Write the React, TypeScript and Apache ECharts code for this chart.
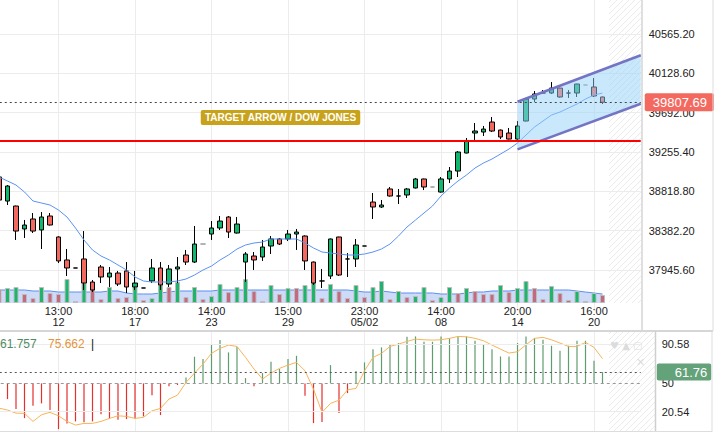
import React, { useEffect, useRef } from 'react';
import * as echarts from 'echarts';

const FONT = '"Liberation Sans", Arial, sans-serif';
const SLOT_COUNT = 76;

const opens = [38978, 38711, 38656, 38401, 38512, 38390, 38545, 38312, 38057, 37968, 38068, 37812, 37979, 37868, 37912, 37935, 37757, 37746, 37824, 37968, 37790, 37957, 38112, 38034, 38234, 38345, 38412, 38534, 38356, 38034, 38101, 38090, 38212, 38290, 38290, 38345, 38323, 38034, 37824, 37879, 38312, 38068, 38068, 38212, 38700, 38645, 38845, 38767, 38778, 38856, 38956, 38867, 38811, 38956, 39044, 39244, 39466, 39477, 39588, 39499, 39466, 39399, 39599, 39843, 39910, 39910, 39965, 39910, 39910, 39999, 39977, 39866];
const closes = [38722, 38878, 38378, 38445, 38378, 38534, 38445, 38046, 37968, 37968, 37801, 37724, 37868, 37912, 37790, 37757, 37801, 37746, 37968, 37779, 37957, 37979, 38034, 38234, 38234, 38412, 38489, 38367, 38456, 38123, 38057, 38201, 38290, 38234, 38345, 38367, 38046, 37801, 37824, 38290, 37890, 38068, 38223, 38212, 38645, 38667, 38767, 38767, 38845, 38956, 38867, 38867, 38956, 39044, 39255, 39377, 39488, 39510, 39488, 39422, 39399, 39544, 39843, 39899, 39910, 39965, 39866, 39910, 40010, 39999, 39877, 39807.69];
const lows = [38689, 38667, 38279, 38301, 38356, 38179, 38440, 38023, 37879, 37968, 37724, 37701, 37801, 37757, 37768, 37690, 37724, 37746, 37801, 37724, 37757, 37801, 38001, 38023, 38234, 38279, 38390, 38301, 38350, 37812, 37946, 38046, 38123, 38223, 38267, 38168, 37946, 37779, 37746, 37846, 37880, 37868, 37979, 38212, 38512, 38634, 38760, 38678, 38745, 38850, 38833, 38867, 38805, 38911, 38978, 39240, 39388, 39433, 39477, 39399, 39395, 39388, 39595, 39810, 39899, 39899, 39860, 39855, 39866, 39999, 39866, 39788];
const highs = [39011, 38889, 38660, 38501, 38578, 38589, 38578, 38320, 38179, 37968, 38378, 37835, 38001, 37979, 37935, 38034, 37935, 37746, 38068, 38034, 38001, 38090, 38168, 38434, 38234, 38489, 38545, 38545, 38534, 38145, 38145, 38279, 38323, 38301, 38390, 38401, 38330, 38040, 37957, 38295, 38315, 38134, 38290, 38212, 38800, 38723, 38867, 38845, 38856, 38967, 38960, 38867, 38978, 39089, 39266, 39411, 39577, 39544, 39644, 39505, 39522, 39599, 39850, 39932, 39943, 40032, 39970, 39943, 40012, 39999, 40076, 39870];
const greyDoji = [24, 51, 69];

const maValues = [38977.7, 38933.3, 38888.9, 38811.2, 38711.4, 38689.2, 38667.0, 38611.5, 38533.8, 38411.7, 38278.5, 38167.6, 38101.0, 38056.6, 38001.1, 37945.6, 37867.9, 37823.5, 37812.4, 37812.4, 37812.4, 37823.5, 37845.7, 37890.1, 37945.6, 37990.0, 38056.6, 38112.1, 38178.7, 38223.1, 38245.2, 38256.3, 38289.6, 38289.6, 38289.6, 38289.6, 38245.2, 38189.8, 38145.4, 38134.3, 38123.2, 38112.1, 38112.1, 38123.2, 38145.4, 38178.7, 38234.1, 38322.9, 38422.8, 38500.5, 38578.2, 38655.9, 38766.9, 38855.6, 38933.3, 38999.9, 39077.6, 39133.1, 39177.5, 39233.0, 39288.5, 39355.0, 39443.8, 39532.6, 39599.2, 39665.8, 39699.1, 39743.5, 39787.9, 39843.4, 39887.8, 39909.9];

const volumes = [14, 15, 16, 9, 5, 16, 10, 9, 24, 2, 20, 15, 4, 16, 5, 6, 16, 3, 5, 18, 16, 21, 6, 16, 4, 7, 19, 11, 16, 24, 12, 2, 18, 9, 15, 15, 18, 21, 5, 19, 12, 5, 18, 6, 16, 22, 4, 12, 6, 7, 16, 3, 6, 16, 10, 15, 12, 9, 9, 18, 11, 15, 22, 15, 4, 17, 10, 3, 12, 2, 10, 8];
const volumeUp = [0, 1, 1, 0, 0, 1, 0, 0, 1, 0, 1, 0, 0, 1, 0, 0, 1, 0, 1, 1, 0, 1, 0, 1, 0, 1, 1, 0, 1, 1, 0, 0, 1, 0, 1, 0, 1, 1, 0, 1, 0, 0, 1, 0, 1, 1, 0, 1, 0, 1, 1, 0, 1, 1, 0, 1, 0, 0, 0, 1, 0, 1, 1, 0, 0, 1, 0, 0, 1, 0, 1, 0];
const volumeMA = [13, 13, 13, 13, 12, 12, 12, 11, 11, 11, 11, 11, 11, 12, 12, 10, 9, 9, 9, 10, 11, 12, 12, 12, 12, 12, 13, 13, 13, 13, 13, 13, 13, 13, 13, 13, 13, 13, 13, 13, 13, 13, 12, 11, 11, 12, 11, 10, 10, 10, 10, 10, 9, 9, 9, 10, 11, 11, 12, 12, 12, 13, 13, 13, 13, 13, 13, 13, 12, 11, 10, 9];

const histValues = [30, 33.7, 23.3, 13.9, 26.7, 29.2, 22.3, 2.5, 8.4, 10.5, 9.5, 10.5, 18, 13.6, 12.2, 12.9, 13.6, 15.7, 37.8, 17.1, 46.9, 48.3, 56.2, 77.7, 75.3, 90.8, 95, 82.2, 88, 55.5, 46.9, 60.7, 72.4, 64.9, 75.3, 78.7, 37.1, 8.7, 9.8, 69, 19.1, 39.9, 62.8, 71.8, 85.6, 87.4, 89.8, 91.9, 98.4, 98.8, 93.2, 93.2, 98.8, 96.8, 98.8, 98.8, 94.3, 90.8, 85.6, 78, 78, 91.9, 98.8, 97, 95.3, 89.1, 83.9, 89.1, 94.3, 94.3, 73.5, 61.757];
const signalValues = [24.3, 22.3, 19.1, 18.8, 10.5, 17.4, 19.9, 16.3, 10.5, 6.7, 8.4, 8.4, 10.5, 13.6, 16.3, 15.7, 13.6, 14.7, 21.5, 24, 33.7, 37.8, 51, 60.7, 70, 81.2, 86.4, 89.8, 88.4, 77, 64.9, 54.5, 60.7, 65.6, 69, 71.8, 63.1, 44, 19.9, 29.2, 32.6, 43.3, 44.8, 63.1, 77, 81.2, 88.4, 90.8, 93.6, 96, 95.3, 95, 95.3, 96.8, 98.8, 98.4, 96.8, 94.3, 89.8, 85.6, 81.5, 82.9, 90.1, 96.8, 97.8, 95.3, 91.9, 88.4, 88.4, 92.6, 87.4, 75.662];

const tickIndices = [7, 16, 25, 34, 43, 52, 61, 70];
const tickTimes = ['13:00', '18:00', '14:00', '15:00', '23:00', '14:00', '20:00', '16:00'];
const tickDays = ['12', '17', '23', '29', '05/02', '08', '14', '20'];

const priceMin = 37509.0;
const priceMax = 41001.8;
const priceStep = 436.6;
const currentPrice = 39807.69;
const supportLevel = 39380;
const channelStart = 61;
const channelEnd = 75;
const channelTop = [39813.4, 40311.8];
const channelBottom = [39285.1, 39774.0];

const oscLevels = [20.54, 90.58];
const oscMid = 50;
const oscCurrent = 61.76;
const histLegend = '61.757';
const signalLegend = '75.662';
const title = 'TARGET ARROW / DOW JONES';

function hatch(x0: number, y0: number, x1: number, y1: number, step: number, color: string) {
  const els: any[] = [];
  for (let c = x0 + y0 + 2; c < x1 + y1; c += step) {
    const xa = Math.max(x0, c - y1);
    const xb = Math.min(x1, c - y0);
    if (xa < xb) {
      els.push({ type: 'line', silent: true, z: 0, shape: { x1: xa, y1: c - xa, x2: xb, y2: c - xb }, style: { stroke: color, lineWidth: 1 } });
    }
  }
  return els;
}

function vline(x: number, y1: number, y2: number, color: string, w: number) {
  return { type: 'line', silent: true, z: 50, shape: { x1: x, y1, x2: x, y2 }, style: { stroke: color, lineWidth: w } };
}
function hline(y: number, x1: number, x2: number, color: string, w: number) {
  return { type: 'line', silent: true, z: 50, shape: { x1, y1: y, x2, y2: y }, style: { stroke: color, lineWidth: w } };
}

export default function App() {
  const ref = useRef<HTMLDivElement>(null);
  useEffect(() => {
    document.body.style.margin = '0';
    const chart = echarts.init(ref.current!, undefined, { renderer: 'svg' });
    const slots = Array.from({ length: SLOT_COUNT }, (_, i) => String(i));
    const isTick = (i: number) => tickIndices.includes(i);
    const candleData = opens.map((o, i) => {
      const v = [o, closes[i], lows[i], highs[i]];
      return greyDoji.includes(i) ? { value: v, itemStyle: { borderColorDoji: '#999' } } : v;
    });
    const gridLine = { color: '#ececec', width: 1 };
    const gridBase = { outerBoundsMode: 'none', containLabel: false };
    const option: any = {
      animation: false,
      backgroundColor: '#fff',
      textStyle: { fontFamily: FONT },
      grid: [
        { ...gridBase, left: -5.25, top: -5.34, width: 646, height: 314.68 },
        { ...gridBase, left: -5.25, top: 273, width: 646, height: 30 },
        { ...gridBase, left: -5.25, top: 332, width: 646, height: 99.5 },
      ],
      xAxis: [
        {
          type: 'category', gridIndex: 0, data: slots, boundaryGap: true,
          axisLine: { show: false }, axisTick: { show: false }, axisLabel: { show: false },
          splitLine: { show: true, interval: isTick, alignWithLabel: true, lineStyle: gridLine },
        },
        {
          type: 'category', gridIndex: 1, data: slots, boundaryGap: true,
          axisLine: { show: false }, axisTick: { show: false }, splitLine: { show: false },
          axisLabel: {
            show: true, interval: isTick, fontSize: 11, lineHeight: 10.5, color: '#222', margin: 3, fontFamily: FONT,
            formatter: (_v: string, idx: number) => {
              const k = tickIndices.indexOf(idx);
              return k >= 0 ? tickTimes[k] + '\n' + tickDays[k] : '';
            },
          },
        },
        {
          type: 'category', gridIndex: 2, data: slots, boundaryGap: true,
          axisLine: { show: false }, axisTick: { show: false }, axisLabel: { show: false },
          splitLine: { show: true, interval: isTick, alignWithLabel: true, lineStyle: gridLine },
        },
      ],
      yAxis: [
        {
          type: 'value', gridIndex: 0, position: 'right', min: priceMin, max: priceMax, interval: priceStep,
          axisLine: { show: false }, axisTick: { show: false },
          axisLabel: { fontSize: 11, color: '#222', margin: 8, fontFamily: FONT, showMinLabel: false, showMaxLabel: false, formatter: (v: number) => v.toFixed(2) },
          splitLine: { show: true, showMinLine: false, showMaxLine: false, lineStyle: gridLine },
        },
        { type: 'value', gridIndex: 1, min: 0, max: 30, show: false },
        { type: 'value', gridIndex: 2, min: 0, max: 103.4, show: false },
      ],
      series: [
        {
          type: 'candlestick', xAxisIndex: 0, yAxisIndex: 0, data: candleData, barWidth: 5,
          itemStyle: { color: '#12b76e', color0: '#f4695f', borderColor: '#000', borderColor0: '#000', borderColorDoji: '#000', borderWidth: 1 },
          markLine: {
            silent: true, symbol: 'none', animation: false,
            data: [
              { yAxis: supportLevel, lineStyle: { color: '#ff0000', width: 2, type: 'solid' }, label: { show: false } },
              {
                yAxis: currentPrice, lineStyle: { color: '#444', width: 1, type: [2, 3] },
                label: {
                  show: true, position: 'end', distance: 4, formatter: currentPrice.toFixed(2), color: '#fff', fontSize: 13,
                  fontFamily: FONT, backgroundColor: '#f4695f', padding: [3, 7, 2, 8], borderRadius: 2,
                },
              },
            ],
          },
        },
        {
          type: 'line', xAxisIndex: 0, yAxisIndex: 0, data: maValues, symbol: 'none',
          lineStyle: { color: '#5b93f3', width: 1 }, z: 3,
        },
        {
          type: 'custom', xAxisIndex: 0, yAxisIndex: 0, z: 4, data: [[channelStart, channelTop[0]]],
          renderItem: (params: any, api: any) => {
            const cs = params.coordSys;
            const a1 = api.coord([channelStart, channelTop[0]]);
            const a2 = api.coord([channelEnd, channelTop[1]]);
            const b1 = api.coord([channelStart, channelBottom[0]]);
            const b2 = api.coord([channelEnd, channelBottom[1]]);
            const xr = cs.x + cs.width;
            const ext = (p: number[], q: number[]) => [xr, p[1] + ((q[1] - p[1]) * (xr - p[0])) / (q[0] - p[0])];
            const a3 = ext(a1, a2);
            const b3 = ext(b1, b2);
            return {
              type: 'group',
              children: [
                { type: 'polygon', shape: { points: [a1, a3, b3, b1] }, style: { fill: 'rgba(150,210,250,0.5)' } },
                { type: 'line', shape: { x1: a1[0], y1: a1[1], x2: a3[0], y2: a3[1] }, style: { stroke: '#7474c4', lineWidth: 2.5 } },
                { type: 'line', shape: { x1: b1[0], y1: b1[1], x2: b3[0], y2: b3[1] }, style: { stroke: '#7474c4', lineWidth: 2.5 } },
              ],
            };
          },
        },
        {
          type: 'line', xAxisIndex: 1, yAxisIndex: 1, data: volumeMA, symbol: 'none',
          lineStyle: { color: '#5d8ff0', width: 1 }, areaStyle: { color: 'rgba(95,140,235,0.45)' }, z: 1,
        },
        {
          type: 'bar', xAxisIndex: 1, yAxisIndex: 1, barWidth: 5, z: 2,
          data: volumes.map((v, i) => ({ value: v, itemStyle: { color: volumeUp[i] ? '#1cb56c' : '#c46a80', borderColor: '#bdbdbd', borderWidth: 1 } })),
        },
        {
          type: 'custom', xAxisIndex: 2, yAxisIndex: 2, z: 3,
          data: histValues.map((v, i) => [i, v]),
          renderItem: (_p: any, api: any) => {
            const x = api.value(0);
            const v = api.value(1);
            const p0 = api.coord([x, oscMid]);
            const p1 = api.coord([x, v]);
            return {
              type: 'line', shape: { x1: p0[0], y1: p0[1], x2: p1[0], y2: p1[1] },
              style: { stroke: v >= oscMid ? '#5f9c70' : '#e5302c', lineWidth: 1.2 },
            };
          },
        },
        {
          type: 'line', xAxisIndex: 2, yAxisIndex: 2, data: signalValues, symbol: 'none', z: 4,
          lineStyle: { color: '#f7b45a', width: 1 },
          markLine: {
            silent: true, symbol: 'none', animation: false,
            data: [
              ...oscLevels.map((l) => ({
                yAxis: l, lineStyle: { color: '#ececec', width: 1, type: 'solid' },
                label: { show: true, position: 'end', distance: 21, formatter: l.toFixed(2), color: '#222', fontSize: 11, fontFamily: FONT },
              })),
              {
                yAxis: oscMid, lineStyle: { color: '#999', width: 1, type: [3, 3] },
                label: { show: true, position: 'end', distance: 21, formatter: String(oscMid), color: '#222', fontSize: 11, fontFamily: FONT },
              },
              {
                yAxis: oscCurrent, lineStyle: { color: '#555', width: 1, type: [2, 3] },
                label: {
                  show: true, position: 'end', distance: 16, formatter: oscCurrent.toFixed(2), color: '#fff', fontSize: 13, fontFamily: FONT,
                  backgroundColor: '#64a27a', padding: [2, 4, 2, 18], borderRadius: 2,
                },
              },
            ],
          },
        },
      ],
      graphic: [
        ...hatch(609, 0, 641, 303, 6, '#ebebeb'),
        ...hatch(609, 332, 655, 431, 6, '#ebebeb'),
        vline(642, 0, 331, '#d4d4d4', 1.5),
        vline(713, 0, 331, '#dddddd', 1),
        hline(331, 0, 713, '#d6d6d6', 2),
        vline(655.5, 331, 432, '#cfcfcf', 1.5),
        vline(712, 331, 432, '#dddddd', 1),
        hline(431.5, 0, 712, '#dddddd', 1),
        {
          type: 'text', x: 280.5, y: 117.5, z: 60,
          style: {
            text: title, fill: '#fff', fontSize: 10, fontWeight: 'bold', fontFamily: FONT,
            align: 'center', verticalAlign: 'middle', backgroundColor: '#c9a21b', padding: [3, 4, 2, 4], borderRadius: 2,
          },
        },
        { type: 'text', x: 0, y: 344, z: 60, style: { text: histLegend, fill: '#4f8b63', fontSize: 12, fontFamily: FONT, verticalAlign: 'middle' } },
        { type: 'text', x: 48, y: 344, z: 60, style: { text: signalLegend, fill: '#e5943c', fontSize: 12, fontFamily: FONT, verticalAlign: 'middle' } },
        { type: 'text', x: 91, y: 344, z: 60, style: { text: '|', fill: '#111', fontSize: 12, fontFamily: FONT, verticalAlign: 'middle' } },
        { type: 'text', x: 610, y: 345, z: 60, style: { text: '♥ ▲ ▢', fill: '#dcdcdc', fontSize: 10, fontFamily: 'DejaVu Sans', verticalAlign: 'middle' } },
        { type: 'text', x: 636, y: 362, z: 60, style: { text: '✕', fill: '#dcdcdc', fontSize: 11, fontFamily: 'DejaVu Sans', verticalAlign: 'middle' } },
      ],
    };
    chart.setOption(option);
    return () => chart.dispose();
  }, []);
  return <div ref={ref} style={{ width: 726, height: 432 }} />;
}
